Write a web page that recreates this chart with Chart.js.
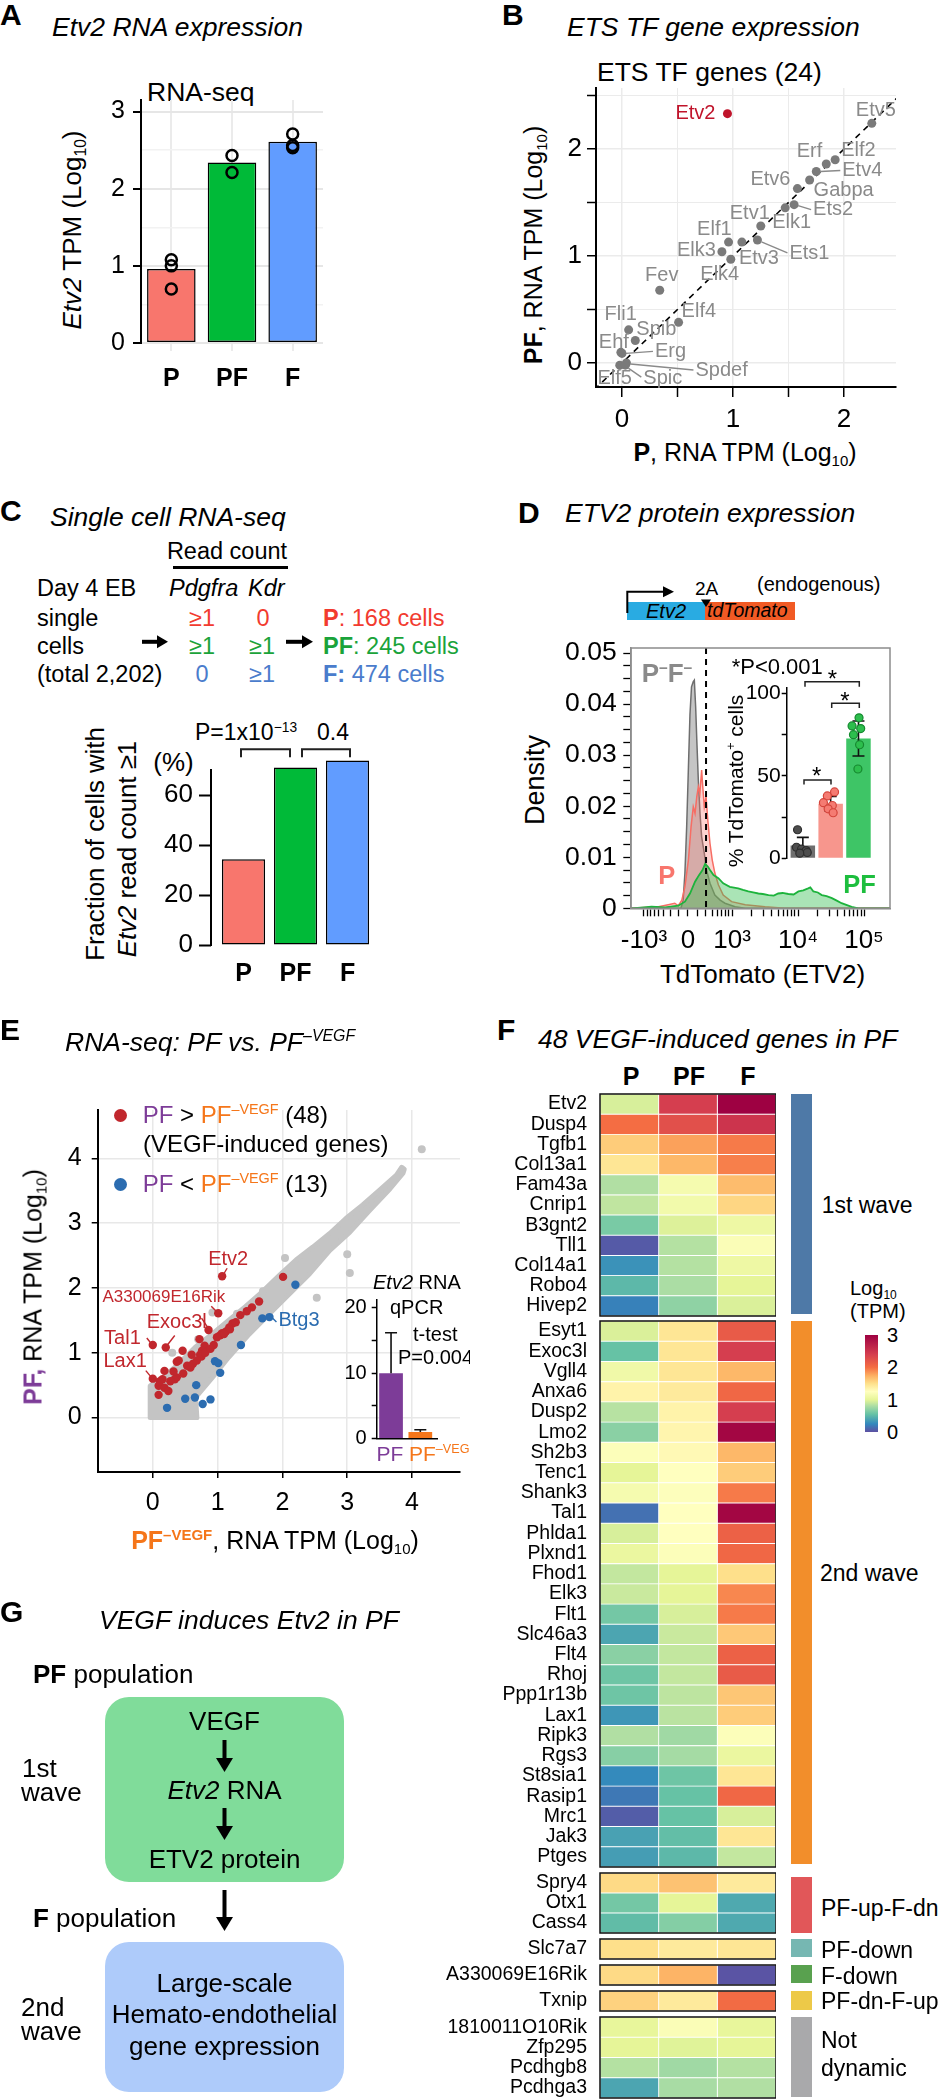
<!DOCTYPE html>
<html>
<head>
<meta charset="utf-8">
<script src="https://cdn.jsdelivr.net/npm/chart.js@4.4.1/dist/chart.umd.min.js"></script>
<style>
  body { margin: 0; background: #fff; }
  #page { position: relative; width: 940px; height: 2100px; overflow: hidden;
          font-family: "Liberation Sans", Arial, Helvetica, sans-serif; color: #000; }
  .t { position: absolute; white-space: nowrap; line-height: 1; }
  canvas { position: absolute; }
  .sup { font-size: 0.6em; position: relative; top: -0.6em; }
  .sub { font-size: 0.6em; position: relative; top: 0.35em; }
  .box { position: absolute; }
</style>
</head>
<body>
<div id="page"></div>
<script>
// ---------------- data ----------------
// A: Etv2 RNA-seq
const groups = ['P', 'PF', 'F'];
const groupColors = ['#f8766d', '#00ba38', '#619cff'];
const etv2Tpm = [0.96, 2.34, 2.61];
const etv2RepGroup = ['P', 'P', 'P', 'PF', 'PF', 'F', 'F', 'F'];
const etv2RepTpm = [1.08, 1.0, 0.70, 2.43, 2.21, 2.71, 2.56, 2.53];

// B: ETS TF genes, log10 TPM in P (x) and PF (y)
const etsGenes = ['Etv2', 'Etv5', 'Elf2', 'Erf', 'Etv4', 'Gabpa', 'Etv6', 'Ets2', 'Elk1', 'Etv1', 'Ets1', 'Etv3',
  'Elf1', 'Elk3', 'Elk4', 'Fev', 'Elf4', 'Fli1', 'Spib', 'Ehf', 'Erg', 'Spdef', 'Elf5', 'Spic'];
const etsP = [0.95, 2.25, 1.92, 1.84, 1.75, 1.69, 1.58, 1.55, 1.47, 1.25, 1.22, 1.08,
  0.96, 0.90, 0.98, 0.34, 0.51, 0.06, 0.12, -0.01, 0.0, 0.04, -0.02, 0.03];
const etsPF = [2.33, 2.24, 1.90, 1.86, 1.79, 1.71, 1.63, 1.48, 1.45, 1.28, 1.15, 1.13,
  1.13, 1.04, 0.97, 0.68, 0.38, 0.31, 0.21, 0.10, 0.09, 0.0, -0.02, -0.02];
const diagRef = [-0.25, 2.6];

// C: single cell fraction with Etv2 >= 1 (%)
const scPct = [34.3, 71.0, 73.8];

// D: TdTomato density (x in display units: 0 -> 0, 1 -> 10^3, 2.5 -> 10^4, 4 -> 10^5)
const tdTicks = [-1, 0, 1, 2.5, 4];
const tdTickLabels = ['-10³', '0', '10³', '10⁴', '10⁵'];
const tdGate = 0.41;
const densNeg = [[-1.3, 0], [-0.16, 0], [-0.11, 0.0016], [-0.07, 0.0069], [-0.03, 0.016], [0.01, 0.0277],
  [0.045, 0.038], [0.08, 0.0434], [0.12, 0.0444], [0.144, 0.0447], [0.174, 0.0395], [0.2, 0.033],
  [0.235, 0.0251], [0.273, 0.0186], [0.31, 0.014], [0.37, 0.0108], [0.42, 0.0075], [0.5, 0.0049],
  [0.61, 0.0026], [0.73, 0.0016], [0.84, 0.001], [1.07, 0.0003], [1.3, 0], [4.59, 0]];
const densP = [[-1.3, 0], [-0.9, 0.0002], [-0.67, 0.0003], [-0.45, 0.0007], [-0.3, 0.001], [-0.22, 0.0005],
  [-0.14, 0.0016], [-0.07, 0.0042], [0.01, 0.0095], [0.07, 0.016], [0.12, 0.0199], [0.16, 0.0186],
  [0.2, 0.0219], [0.235, 0.0238], [0.27, 0.0225], [0.31, 0.0271], [0.33, 0.0245], [0.37, 0.0199],
  [0.41, 0.0219], [0.45, 0.0173], [0.5, 0.0127], [0.55, 0.0095], [0.61, 0.0069], [0.69, 0.0046],
  [0.8, 0.0026], [0.99, 0.0013], [1.3, 0.0007], [1.75, 0.0003], [2.2, 0], [4.59, 0]];
const densPF = [[-1.3, 0], [-1.0, 0.0002], [-0.83, 0.0003], [-0.52, 0.0002], [-0.22, 0.0005], [-0.07, 0.0013],
  [0.045, 0.0029], [0.16, 0.0052], [0.25, 0.0065], [0.33, 0.0075], [0.39, 0.0087], [0.45, 0.0082],
  [0.5, 0.0075], [0.58, 0.0065], [0.69, 0.0059], [0.8, 0.0049], [0.95, 0.0042], [1.14, 0.0039],
  [1.25, 0.0036], [1.37, 0.0033], [1.48, 0.0031], [1.6, 0.0029], [1.7, 0.0028], [1.83, 0.0026],
  [1.95, 0.0025], [2.05, 0.0029], [2.15, 0.003], [2.28, 0.0028], [2.4, 0.0027], [2.51, 0.0033],
  [2.62, 0.0035], [2.73, 0.0039], [2.78, 0.0041], [2.85, 0.0033], [2.95, 0.0031], [3.04, 0.0026],
  [3.15, 0.0024], [3.27, 0.002], [3.38, 0.0015], [3.49, 0.001], [3.72, 0.0003], [3.87, 0], [4.59, 0]];

// D inset: % TdTomato+ cells (P-F-, P, PF)
const tdPctMean = [7.7, 33, 72.6];
const tdPctSd = [5, 4.5, 10.6];
const tdPctPts = [[17.3, 6.7, 5.5, 4.7, 3.5, 3.1], [40.2, 37.8, 33.7, 32, 30, 27.6], [85.1, 80.2, 78.6, 74.9, 68.8, 54.1]];
const tdPctJitter = [[-0.19, -0.23, -0.05, 0.12, 0.16, -0.11], [0.14, -0.12, -0.26, 0.06, -0.09, 0.09], [0.02, -0.23, 0.08, -0.18, 0.04, -0.02]];

// E: PF vs PF-VEGF (log10 TPM)
const eRedX = [1.07, 2.01, 1.64, 1.53, 1.45, 1.35, 1.01, 1.23, 1.18, 1.13, 1.07, 1.04, 0.86, 0.94, 0.80, 0.76,
  0.73, 0.60, 0.46, 0.62, 0.58, 0.47, 0.37, 0.37, 0.34, 0.20, 0.0, 0.18, 0.0, 0.15, 0.09, 0.18,
  0.24, 0.09, 0.72, 0.75, 0.68, 0.81, 0.89, 0.40, 0.32, 0.27, 1.19, 1.10, 1.28, 0.99, 0.11, 0.53];
const eRedY = [2.18, 2.17, 1.79, 1.70, 1.64, 1.58, 1.61, 1.45, 1.39, 1.33, 1.30, 1.27, 1.35, 1.12, 1.11, 1.03,
  0.97, 0.97, 1.03, 0.83, 0.77, 0.68, 0.86, 0.62, 0.59, 1.08, 1.12, 0.72, 0.60, 0.59, 0.49, 0.46,
  0.41, 0.35, 1.21, 0.94, 0.88, 1.00, 1.06, 0.88, 0.71, 0.56, 1.36, 1.29, 1.47, 1.24, 0.56, 0.80];
const eBlueX = [2.20, 1.69, 1.80, 1.36, 0.96, 1.01, 1.04, 0.67, 0.50, 0.65, 0.89, 0.77, 0.22];
const eBlueY = [2.05, 1.53, 1.55, 1.12, 0.87, 0.84, 0.69, 0.50, 0.29, 0.31, 0.28, 0.21, 0.15];
const eGreyX = [4.15, 2.04, 3.0, 3.04, 2.53, 0.92, 0.70, 1.70, 0.30, 0.50, 1.30];
const eGreyY = [4.14, 2.46, 2.52, 2.23, 1.85, 1.62, 1.21, 1.95, 1.00, 0.75, 1.60];
const eCloudX = [-0.04, -0.04, 0.14, 0.40, 0.66, 0.92, 1.17, 1.43, 1.69, 1.95, 2.21, 2.47, 2.73, 2.98, 3.24, 3.50,
  3.76, 3.84, 3.88, 3.86, 3.66, 3.35, 3.04, 2.73, 2.42, 2.11, 1.80, 1.49, 1.17, 0.92, 0.66, 0.68];
const eCloudY = [0.0, 0.49, 0.60, 0.83, 1.09, 1.29, 1.50, 1.71, 1.94, 2.19, 2.43, 2.63, 2.84, 3.07, 3.28, 3.51,
  3.74, 3.86, 3.83, 3.77, 3.53, 3.20, 2.86, 2.58, 2.22, 1.91, 1.60, 1.29, 0.93, 0.62, 0.31, 0.0];
const qpcrMean = [10.0, 1.0];
const qpcrSd = [6.2, 0.35];

// F: heatmap, log10 TPM
const heatGenes = ['Etv2', 'Dusp4', 'Tgfb1', 'Col13a1', 'Fam43a', 'Cnrip1', 'B3gnt2', 'Tll1', 'Col14a1', 'Robo4', 'Hivep2',
  'Esyt1', 'Exoc3l', 'Vgll4', 'Anxa6', 'Dusp2', 'Lmo2', 'Sh2b3', 'Tenc1', 'Shank3', 'Tal1', 'Phlda1', 'Plxnd1', 'Fhod1',
  'Elk3', 'Flt1', 'Slc46a3', 'Flt4', 'Rhoj', 'Ppp1r13b', 'Lax1', 'Ripk3', 'Rgs3', 'St8sia1', 'Rasip1', 'Mrc1', 'Jak3', 'Ptges',
  'Spry4', 'Otx1', 'Cass4', 'Slc7a7', 'A330069E16Rik', 'Txnip', '1810011O10Rik', 'Zfp295', 'Pcdhgb8', 'Pcdhga3'];
const heatP = [0.95, 2.0, 1.6, 1.45, 0.82, 0.87, 0.62, 0.05, 0.3, 0.5, 0.22,
  0.96, 0.55, 1.1, 1.35, 0.84, 0.68, 1.22, 1.0, 1.15, 0.15, 0.95, 1.05, 0.88, 0.9, 0.6, 0.4, 0.68, 0.58, 0.58,
  0.32, 0.82, 0.67, 0.26, 0.18, 0.06, 0.38, 0.36,
  1.53, 0.6, 0.52, 1.5, 1.53, 1.57, 1.02, 1.0, 0.83, 0.4];
const heatPF = [2.4, 2.25, 1.8, 1.7, 1.15, 1.12, 0.97, 0.83, 0.83, 0.8, 0.7,
  1.45, 1.45, 1.45, 1.42, 1.35, 1.33, 1.3, 1.25, 1.23, 1.25, 1.25, 1.22, 1.0, 1.0, 0.95, 0.9, 0.88, 0.88, 0.86,
  0.85, 0.76, 0.78, 0.58, 0.55, 0.55, 0.53, 0.5,
  1.65, 1.0, 0.66, 1.42, 1.72, 1.42, 1.2, 0.98, 0.76, 0.79];
const heatF = [3.0, 2.5, 1.95, 1.93, 1.68, 1.55, 1.08, 1.2, 1.08, 1.0, 0.96,
  2.15, 2.4, 1.7, 2.05, 2.4, 2.95, 1.7, 1.6, 1.95, 2.95, 2.1, 2.05, 1.5, 1.9, 1.95, 1.62, 2.1, 2.15, 1.63,
  1.6, 1.22, 1.05, 1.45, 2.05, 0.95, 1.45, 0.88,
  1.42, 0.42, 0.42, 1.45, 0.02, 2.02, 1.02, 1.0, 0.83, 0.82];
const heatBlockSizes = [11, 27, 3, 1, 1, 1, 4];
const heatStops = [[0, '#5e4fa2'], [0.25, '#3288bd'], [0.55, '#66c2a5'], [0.8, '#abdda4'], [1.0, '#e6f598'],
  [1.25, '#ffffbf'], [1.5, '#fee08b'], [1.75, '#fdae61'], [2.0, '#f46d43'], [2.4, '#d53e4f'], [3.0, '#9e0142']];

// ---------------- helpers ----------------
const page = document.getElementById('page');
const FONT = '"Liberation Sans", Arial, Helvetica, sans-serif';
Chart.defaults.font.family = FONT;
Chart.defaults.color = '#000';
Chart.defaults.animation = false;
Chart.defaults.responsive = false;
Chart.defaults.plugins.legend.display = false;
Chart.defaults.plugins.tooltip.enabled = false;

const isInt = v => Math.abs(v - Math.round(v)) < 1e-9;
const pad = (top, right, bottom) => ({ padding: { top: top, right: right, bottom: bottom || 0, left: 0 }, autoPadding: false });

function canvasAt(left, top, w, h, parent) {
  const c = document.createElement('canvas');
  c.width = w; c.height = h;
  c.style.left = left + 'px'; c.style.top = top + 'px';
  c.style.width = w + 'px'; c.style.height = h + 'px';
  (parent || page).appendChild(c);
  return c.getContext('2d');
}
function zeroPad(s) { s.paddingTop = 0; s.paddingBottom = 0; s.paddingLeft = 0; s.paddingRight = 0; }
function fitW(w) { return s => { s.width = w; zeroPad(s); }; }
function fitH(h) { return s => { s.height = h; zeroPad(s); }; }
// category-like positions 1..n on a linear axis (so the bars can sit anywhere in the plot)
const slots = n => s => { s.ticks = Array.from({ length: n }, (_, i) => ({ value: i + 1 })); };

function T(x, y, size, html, align, css, parent) {
  const d = document.createElement('div');
  d.className = 't';
  d.style.left = x + 'px'; d.style.top = y + 'px'; d.style.fontSize = size + 'px';
  const tx = align === 'c' ? '-50%' : align === 'r' ? '-100%' : '0';
  d.style.transform = 'translate(' + tx + ',-50%)';
  if (css) d.style.cssText += css;
  d.innerHTML = html;
  (parent || page).appendChild(d);
  return d;
}
function R(x, y, size, html, css) {
  const d = T(x, y, size, html, 'c', css);
  d.style.transform = 'translate(-50%,-50%) rotate(-90deg)';
  return d;
}
function rect(x, y, w, h, bg, css) {
  const d = document.createElement('div');
  d.className = 'box';
  d.style.cssText = 'left:' + x + 'px;top:' + y + 'px;width:' + w + 'px;height:' + h + 'px;background:' + bg + ';' + (css || '');
  page.appendChild(d);
  return d;
}
function hexRgb(h) { return [1, 3, 5].map(i => parseInt(h.substr(i, 2), 16)); }
function heatColor(v) {
  for (let i = 1; i < heatStops.length; i++) {
    if (v <= heatStops[i][0]) {
      const [v0, c0] = heatStops[i - 1], [v1, c1] = heatStops[i];
      const f = Math.max(0, (v - v0) / (v1 - v0));
      const a = hexRgb(c0), b = hexRgb(c1);
      return 'rgb(' + a.map((x, k) => Math.round(x + (b[k] - x) * f)).join(',') + ')';
    }
  }
  return heatStops[heatStops.length - 1][1];
}
const frame = (color, w) => ({
  id: 'frame',
  afterDraw(chart) {
    const a = chart.chartArea, c = chart.ctx;
    c.save(); c.strokeStyle = color; c.lineWidth = w;
    c.strokeRect(a.left, a.top, a.right - a.left, a.bottom - a.top);
    c.restore();
  }
});
function labelPlugin(items) {
  return {
    id: 'ptlabels',
    afterDatasetsDraw(chart) {
      const ctx = chart.ctx;
      ctx.save();
      ctx.textBaseline = 'middle';
      items.forEach(it => {
        const el = chart.getDatasetMeta(it.ds).data[it.i];
        if (!el) return;
        ctx.strokeStyle = it.color; ctx.fillStyle = it.color; ctx.lineWidth = 1.4;
        if (it.lead) {
          ctx.beginPath();
          ctx.moveTo(el.x + it.lead[0], el.y + it.lead[1]);
          ctx.lineTo(el.x + it.lead[2], el.y + it.lead[3]);
          ctx.stroke();
        }
        if (it.t) {
          ctx.font = it.font;
          ctx.textAlign = { l: 'left', r: 'right', c: 'center' }[it.a];
          ctx.fillText(it.t, el.x + it.dx, el.y + it.dy);
        }
      });
      ctx.restore();
    }
  };
}
function errorBars(means, sds, upOnly, cap) {
  return {
    id: 'errbars',
    afterDatasetDraw(chart, args) {
      if (args.index !== 0) return;
      const ctx = chart.ctx, xs = chart.scales.x, ys = chart.scales.y;
      ctx.save(); ctx.strokeStyle = '#111'; ctx.lineWidth = 1.6;
      means.forEach((m, i) => {
        const x = xs.getPixelForValue(i + 1);
        const yTop = ys.getPixelForValue(m + sds[i]);
        const yBot = ys.getPixelForValue(upOnly ? m : m - sds[i]);
        ctx.beginPath();
        ctx.moveTo(x, yBot); ctx.lineTo(x, yTop);
        ctx.moveTo(x - cap, yTop); ctx.lineTo(x + cap, yTop);
        if (!upOnly) { ctx.moveTo(x - cap, yBot); ctx.lineTo(x + cap, yBot); }
        ctx.stroke();
      });
      ctx.restore();
    }
  };
}

// ---------------- panel A ----------------
T(0, 15, 30, '<b>A</b>');
T(52, 27, 26.5, '<i>Etv2 RNA expression</i>');
T(147, 92, 26.5, 'RNA-seq');
R(72, 230, 26, '<i>Etv2</i> TPM (Log<span class="sub">10</span>)');
new Chart(canvasAt(95, 88, 233, 307), {
  type: 'bar',
  data: {
    labels: groups,
    datasets: [
      { type: 'line', data: etv2RepTpm.map((y, i) => ({ x: etv2RepGroup[i], y: y })), showLine: false,
        pointRadius: 5.5, pointBorderWidth: 2.5, pointBorderColor: '#000', pointBackgroundColor: 'rgba(0,0,0,0)', order: 0 },
      { data: etv2Tpm, backgroundColor: groupColors, borderColor: '#000', borderWidth: 1.5, borderSkipped: false,
        barPercentage: 0.8, categoryPercentage: 1, order: 1 }
    ]
  },
  options: {
    layout: pad(12, 5),
    scales: {
      x: { afterFit: fitH(52), border: { display: false },
           grid: { offset: false, color: '#ebebeb', lineWidth: 2, tickColor: '#ebebeb', tickLength: 8 },
           ticks: { font: { size: 25, weight: 'bold' }, padding: 13 } },
      y: { min: 0, max: 3.15, afterFit: fitW(46), border: { color: '#000', width: 2 },
           ticks: { stepSize: 0.5, includeBounds: false, font: { size: 25 }, padding: 8, callback: v => isInt(v) ? v : '' },
           grid: { color: c => c.tick && isInt(c.tick.value) ? '#e6e6e6' : '#f2f2f2',
                   lineWidth: c => c.tick && isInt(c.tick.value) ? 2 : 1.5,
                   tickColor: c => c.tick && isInt(c.tick.value) ? '#000' : 'rgba(0,0,0,0)', tickLength: 8 } }
    }
  }
});

// ---------------- panel B ----------------
T(502, 15, 30, '<b>B</b>');
T(567, 27, 26.5, '<i>ETS TF gene expression</i>');
T(597, 72, 26.5, 'ETS TF genes (24)');
R(533, 245, 25, '<b>PF</b>, RNA TPM (Log<span class="sub">10</span>)');
T(745, 452, 25, '<b>P</b>, RNA TPM (Log<span class="sub">10</span>)', 'c');
// label offsets from the point: [dx, dy, align, leader]
const etsLabelAt = [
  [-12, 0, 'r'], [4, -13, 'c'], [6, -9, 'l'], [-4, -12, 'r'], [26, -1, 'l', [4, 0, 24, -1]],
  [4, 10, 'l'], [-7, -9, 'r'], [19, 5, 'l', [4, 1, 17, 5]], [-13, 15, 'l'], [9, -13, 'r'],
  [32, 14, 'l', [4, 2, 30, 13]], [-3, 16, 'l'], [3, -13, 'r'], [-6, -1, 'r'], [-11, 15, 'c'],
  [2, -15, 'c'], [3, -11, 'l'], [-8, -15, 'c'], [1, -11, 'l'], [-7, -10, 'c'],
  [33, -2, 'l', [4, 0, 31, -2]], [69, 7, 'l', [4, 1, 67, 7]], [-5, 13, 'c'], [18, 13, 'l', [3, 3, 16, 12]]
];
const bLabels = etsGenes.map((g, i) => ({
  ds: 0, i: i, t: g, dx: etsLabelAt[i][0], dy: etsLabelAt[i][1], a: etsLabelAt[i][2], lead: etsLabelAt[i][3],
  color: g === 'Etv2' ? '#c0142b' : '#8a8a8a', font: '20px ' + FONT
}));
new Chart(canvasAt(550, 70, 356, 370), {
  type: 'line',
  data: {
    datasets: [
      { data: etsP.map((x, i) => ({ x: x, y: etsPF[i] })), showLine: false, pointRadius: 4.5, pointBorderWidth: 0,
        pointBackgroundColor: etsGenes.map(g => g === 'Etv2' ? '#c0142b' : '#7a7a7a'), order: 0 },
      { data: diagRef.map(v => ({ x: v, y: v })), borderColor: '#000', borderWidth: 1.6, borderDash: [6, 5],
        pointRadius: 0, order: 1 }
    ]
  },
  options: {
    layout: pad(18, 10),
    scales: {
      x: { type: 'linear', min: -0.234, max: 2.468, afterFit: fitH(53), border: { color: '#000', width: 2 },
           ticks: { stepSize: 0.5, includeBounds: false, font: { size: 26 }, padding: 7, maxRotation: 0, callback: v => isInt(v) ? v : '' },
           grid: { color: '#ebebeb', lineWidth: c => c.tick && isInt(c.tick.value) ? 1.5 : 1, tickColor: '#000', tickWidth: 1.5, tickLength: 10 } },
      y: { min: -0.224, max: 2.57, afterFit: fitW(46), border: { color: '#000', width: 2 },
           ticks: { stepSize: 0.5, includeBounds: false, font: { size: 26 }, padding: 5, callback: v => isInt(v) ? v : '' },
           grid: { color: '#ebebeb', lineWidth: c => c.tick && isInt(c.tick.value) ? 1.5 : 1, tickColor: '#000', tickWidth: 1.5, tickLength: 9 } }
    }
  },
  plugins: [labelPlugin(bLabels)]
});

// ---------------- panel C ----------------
T(0, 511, 30, '<b>C</b>');
T(50, 517, 26.5, '<i>Single cell RNA-seq</i>');
T(227, 552, 23.5, 'Read count', 'c');
T(169, 589, 23.5, '<i>Pdgfra</i>');
T(248, 589, 23.5, '<i>Kdr</i>');
T(37, 589, 23.5, 'Day 4 EB');
T(37, 619, 23.5, 'single');
T(37, 647, 23.5, 'cells');
T(37, 675, 23.5, '(total 2,202)');
const cRed = '#f23b2f', cGreen = '#1aa33a', cBlue = '#4a7ccc';
T(202, 619, 23.5, '≥1', 'c', 'color:' + cRed);
T(263, 619, 23.5, '0', 'c', 'color:' + cRed);
T(202, 647, 23.5, '≥1', 'c', 'color:' + cGreen);
T(262, 647, 23.5, '≥1', 'c', 'color:' + cGreen);
T(202, 675, 23.5, '0', 'c', 'color:' + cBlue);
T(262, 675, 23.5, '≥1', 'c', 'color:' + cBlue);
T(323, 619, 23.5, '<b>P</b>: 168 cells', 'l', 'color:' + cRed);
T(323, 647, 23.5, '<b>PF</b>: 245 cells', 'l', 'color:' + cGreen);
T(323, 675, 23.5, '<b>F:</b> 474 cells', 'l', 'color:' + cBlue);
T(195, 732, 23, 'P=1x10<span class="sup">−13</span>');
T(317, 732, 23, '0.4');
T(173.5, 762, 26, '(%)', 'c');
R(96, 844, 25.8, 'Fraction of cells with');
R(127.5, 849, 25.8, '<i>Etv2</i> read count ≥1');
new Chart(canvasAt(150, 740, 230, 250), {
  type: 'bar',
  data: {
    datasets: [{ data: scPct.map((y, i) => ({ x: i + 1, y: y })), backgroundColor: groupColors, borderColor: '#000',
      borderWidth: 1.5, borderSkipped: false, barPercentage: 0.83, categoryPercentage: 1 }]
  },
  options: {
    layout: pad(15, 7),
    scales: {
      x: { type: 'linear', offset: false, min: 0.375, max: 3.49, afterFit: fitH(45), border: { display: false },
           afterBuildTicks: slots(3),
           grid: { display: false, drawTicks: false },
           ticks: { font: { size: 25, weight: 'bold' }, padding: 14, callback: v => groups[v - 1] } },
      y: { min: 0, max: 76, afterFit: fitW(61), border: { display: false },
           afterBuildTicks: s => { s.ticks = [0, 10, 20, 30, 40, 50, 60, 70].map(v => ({ value: v })); },
           ticks: { font: { size: 26 }, padding: 6, callback: v => v % 20 === 0 ? v : '' },
           grid: { drawOnChartArea: false, tickColor: '#000', tickWidth: 2, tickLength: 12 } }
    }
  },
  plugins: [{
    id: 'axisC',
    afterDraw(chart) {
      const ys = chart.scales.y, x = chart.chartArea.left, ctx = chart.ctx;
      ctx.save(); ctx.strokeStyle = '#000'; ctx.lineWidth = 2;
      ctx.beginPath(); ctx.moveTo(x, ys.getPixelForValue(0) + 1); ctx.lineTo(x, ys.getPixelForValue(70) - 1); ctx.stroke();
      ctx.restore();
    }
  }]
});

// ---------------- panel D ----------------
T(518, 513, 30, '<b>D</b>');
T(565, 513, 26.5, '<i>ETV2 protein expression</i>');
rect(627.3, 602.3, 77.7, 17.5, '#29abe2');
rect(705, 602.3, 90, 17.5, '#f15a24');
T(666, 611, 20, '<i>Etv2</i>', 'c');
T(707, 611, 19.5, '<i>tdTomato</i>');
T(695, 588, 19, '2A');
T(757, 584, 20, '(endogenous)');
R(535, 780, 27, 'Density');
T(762.5, 974, 26, 'TdTomato (ETV2)', 'c');
const tdMinor = [];
[2, 3, 4, 5, 6, 7, 8, 9].forEach(m => {
  const l = Math.log10(m) * 1.5;
  tdMinor.push(1 + l, 2.5 + l);
  if (m > 2) tdMinor.push(l - 0.5, 0.5 - l);
});
const tdAllTicks = tdTicks.concat(tdMinor).filter(v => v < 4.55).sort((a, b) => a - b);
new Chart(canvasAt(555, 630, 345, 325), {
  type: 'line',
  data: {
    datasets: [
      { data: densNeg.map(p => ({ x: p[0], y: p[1] })), borderColor: '#6e6e6e', backgroundColor: 'rgba(150,150,150,0.55)',
        fill: 'origin', borderWidth: 1.5, pointRadius: 0, order: 3 },
      { data: densP.map(p => ({ x: p[0], y: p[1] })), borderColor: '#f76d64', backgroundColor: 'rgba(248,118,109,0.33)',
        fill: 'origin', borderWidth: 1.5, pointRadius: 0, order: 2 },
      { data: densPF.map(p => ({ x: p[0], y: p[1] })), borderColor: '#1db33c', backgroundColor: 'rgba(52,190,80,0.42)',
        fill: 'origin', borderWidth: 1.8, pointRadius: 0, order: 1 }
    ]
  },
  options: {
    layout: pad(18, 10),
    scales: {
      x: { type: 'linear', min: -1.295, max: 4.59, afterFit: fitH(46.7), border: { color: '#8c8c8c', width: 1.5 },
           afterBuildTicks: s => { s.ticks = tdAllTicks.map(v => ({ value: v })); },
           ticks: { font: { size: 26 }, padding: 9, maxRotation: 0, autoSkip: false,
                    callback: v => { const k = tdTicks.indexOf(v); return k >= 0 ? tdTickLabels[k] : ''; } },
           grid: { drawOnChartArea: false, tickColor: '#000', tickWidth: 1.3, tickLength: 8 } },
      y: { min: 0, max: 0.051, afterFit: fitW(76), border: { color: '#8c8c8c', width: 1.5 },
           afterBuildTicks: s => { s.ticks = Array.from({ length: 21 }, (_, k) => ({ value: k * 0.0025 })); },
           ticks: { font: { size: 26.5 }, padding: 6.6, autoSkip: false,
                    callback: (v, i) => i % 4 === 0 ? String(+v.toFixed(2)) : '' },
           grid: { drawOnChartArea: false, tickColor: '#000', tickWidth: 1.3, tickLength: 7.7 } }
    }
  },
  plugins: [frame('#8c8c8c', 1.5), {
    id: 'gate',
    afterDatasetsDraw(chart) {
      const x = chart.scales.x.getPixelForValue(tdGate), a = chart.chartArea, ctx = chart.ctx;
      ctx.save(); ctx.strokeStyle = '#000'; ctx.lineWidth = 2; ctx.setLineDash([6, 5]);
      ctx.beginPath(); ctx.moveTo(x, a.top); ctx.lineTo(x, a.bottom); ctx.stroke();
      ctx.restore();
    }
  }]
});
T(641.7, 673, 26, '<b>P<span class="sup">–</span>F<span class="sup">–</span></b>', 'l', 'color:#8a8a8a');
T(658.3, 876, 25.5, '<b>P</b>', 'l', 'color:#f8766d');
T(843.3, 885, 25.5, '<b>PF</b>', 'l', 'color:#1dbe3e');
T(731.7, 667, 22, '*P&lt;0.001');
R(735, 781, 21, '% TdTomato<span class="sup">+</span> cells');
T(816.7, 776, 24, '*', 'c');
T(845, 701, 24, '*', 'c');
T(832.3, 679, 24, '*', 'c');
const insetBar = ['#6e6e6e', '#f7968d', '#3ec566'];
const insetPt = ['#4d4d4d', '#f57b72', '#2dbe4d'];
const insetPtEdge = ['#2e2e2e', '#d4453c', '#168a30'];
new Chart(canvasAt(740, 670, 145, 195), {
  type: 'bar',
  data: {
    datasets: [{ data: tdPctMean.map((y, i) => ({ x: i + 1, y: y })), backgroundColor: insetBar, barPercentage: 0.88,
      categoryPercentage: 1, order: 2 }].concat(tdPctPts.map((pts, g) => ({
      type: 'line', showLine: false, data: pts.map((y, k) => ({ x: g + 1 + tdPctJitter[g][k], y: y })),
      pointRadius: 4, pointBackgroundColor: insetPt[g], pointBorderColor: insetPtEdge[g], pointBorderWidth: 1.2, order: 0
    })))
  },
  options: {
    layout: pad(18, 9, 6.7),
    scales: {
      x: { type: 'linear', offset: false, display: false, min: 0.42, max: 3.63, afterBuildTicks: slots(3) },
      y: { min: 0, max: 103.2, afterFit: fitW(46.7), border: { color: '#000', width: 1.5 },
           afterBuildTicks: s => { s.ticks = [0, 25, 50, 75, 100].map(v => ({ value: v })); },
           ticks: { font: { size: 21 }, padding: 1, callback: v => v % 50 === 0 ? v : '' },
           grid: { drawOnChartArea: false, tickColor: '#000', tickWidth: 1.5, tickLength: 5 } }
    }
  },
  plugins: [errorBars(tdPctMean, tdPctSd, false, 6)]
});

// ---------------- panel E ----------------
const eClip = document.createElement('div');
eClip.style.cssText = 'position:absolute;left:0;top:0;width:470px;height:2100px;overflow:hidden;';
page.appendChild(eClip);
const ePurple = '#7d3c98', eOrange = '#f5761a', eRed = '#c1272d', eBlue = '#2b6cb0';
T(0, 1030, 30, '<b>E</b>');
T(65, 1042, 26.5, '<i>RNA-seq: PF vs. PF<span class="sup">–VEGF</span></i>');
R(33, 1287, 25, '<b style="color:' + ePurple + '">PF,</b> RNA TPM (Log<span class="sub">10</span>)');
T(275, 1540, 25, '<b style="color:' + eOrange + '">PF<span class="sup">–VEGF</span></b>, RNA TPM (Log<span class="sub">10</span>)', 'c');
const eLabels = [
  { ds: 1, i: 0, t: 'Etv2', dx: 6, dy: -17, a: 'c', lead: [2, -3, 5, -8], color: eRed, font: '20px ' + FONT },
  { ds: 1, i: 6, t: 'A330069E16Rik', dx: 7, dy: -16, a: 'r', lead: [-2, -2, -7, -7], color: eRed, font: '17px ' + FONT },
  { ds: 1, i: 25, t: 'Exoc3l', dx: -19, dy: -25, a: 'l', lead: [2, -3, 9, -12], color: eRed, font: '20px ' + FONT },
  { ds: 1, i: 12, t: '', lead: [-1, -3, -7, -12], color: eRed },
  { ds: 1, i: 26, t: 'Tal1', dx: -12, dy: -6, a: 'r', lead: [-2, -2, -6, -7], color: eRed, font: '20px ' + FONT },
  { ds: 1, i: 28, t: 'Lax1', dx: -6, dy: -17, a: 'r', lead: [-2, -2, -7, -8], color: eRed, font: '20px ' + FONT },
  { ds: 2, i: 2, t: 'Btg3', dx: 9, dy: 3, a: 'l', lead: [2, 0, 7, 5], color: eBlue, font: '20px ' + FONT }
];
new Chart(canvasAt(40, 1095, 430, 430, eClip), {
  type: 'line',
  data: {
    datasets: [
      { data: eGreyX.map((x, i) => ({ x: x, y: eGreyY[i] })), showLine: false, pointRadius: 4, pointBorderWidth: 0,
        pointBackgroundColor: '#c4c4c4', order: 3 },
      { data: eRedX.map((x, i) => ({ x: x, y: eRedY[i] })), showLine: false, pointRadius: 4.2, pointBorderWidth: 0,
        pointBackgroundColor: eRed, order: 1 },
      { data: eBlueX.map((x, i) => ({ x: x, y: eBlueY[i] })), showLine: false, pointRadius: 4.2, pointBorderWidth: 0,
        pointBackgroundColor: eBlue, order: 0 }
    ]
  },
  options: {
    layout: pad(15, 10),
    scales: {
      x: { type: 'linear', min: -0.85, max: 4.74, afterFit: fitH(53), border: { color: '#000', width: 2 },
           ticks: { stepSize: 1, includeBounds: false, font: { size: 25 }, padding: 10, maxRotation: 0 },
           grid: { color: '#e8e8e8', lineWidth: 1.5, tickColor: '#000', tickWidth: 1.5, tickLength: 6 } },
      y: { min: -0.84, max: 4.745, afterFit: fitW(57.7), border: { color: '#000', width: 2 },
           ticks: { stepSize: 1, includeBounds: false, font: { size: 25 }, padding: 10 },
           grid: { color: '#e8e8e8', lineWidth: 1.5, tickColor: '#000', tickWidth: 1.5, tickLength: 6 } }
    }
  },
  plugins: [{
    id: 'cloud',
    beforeDatasetsDraw(chart) {
      const xs = chart.scales.x, ys = chart.scales.y, ctx = chart.ctx, a = chart.chartArea;
      ctx.save();
      ctx.beginPath(); ctx.rect(a.left, a.top, a.right - a.left, a.bottom - a.top); ctx.clip();
      ctx.fillStyle = '#c4c4c4'; ctx.strokeStyle = '#c4c4c4'; ctx.lineWidth = 5; ctx.lineJoin = 'round';
      ctx.beginPath();
      eCloudX.forEach((x, i) => {
        const px = xs.getPixelForValue(x), py = ys.getPixelForValue(eCloudY[i]);
        if (i === 0) ctx.moveTo(px, py); else ctx.lineTo(px, py);
      });
      ctx.closePath(); ctx.fill(); ctx.stroke();
      ctx.restore();
    }
  }, labelPlugin(eLabels)]
});
rect(114.2, 1108.7, 13, 13, eRed, 'border-radius:50%;');
rect(114.2, 1177.5, 13, 13, eBlue, 'border-radius:50%;');
const pfP = '<span style="color:' + ePurple + '">PF</span>';
const pfV = '<span style="color:' + eOrange + '">PF<span class="sup">–VEGF</span></span>';
T(142.7, 1115, 24, pfP + ' &gt; ' + pfV + ' (48)');
T(143, 1144, 24, '(VEGF-induced genes)');
T(142.7, 1184, 24, pfP + ' &lt; ' + pfV + ' (13)');
new Chart(canvasAt(330, 1285, 140, 160, eClip), {
  type: 'bar',
  data: {
    datasets: [{ data: qpcrMean.map((y, i) => ({ x: i + 1, y: y })), backgroundColor: [ePurple, eOrange],
      barPercentage: 0.81, categoryPercentage: 1 }]
  },
  options: {
    layout: pad(15, 33),
    scales: {
      x: { type: 'linear', offset: false, min: 0.51, max: 2.57, afterFit: fitH(6.4), border: { color: '#000', width: 1.5 },
           afterBuildTicks: slots(2), ticks: { display: false }, grid: { display: false, drawTicks: false } },
      y: { min: 0, max: 21.2, afterFit: fitW(46.7), border: { color: '#000', width: 1.5 },
           afterBuildTicks: s => { s.ticks = [0, 5, 10, 15, 20].map(v => ({ value: v })); },
           ticks: { font: { size: 20 }, padding: 5, callback: v => v % 10 === 0 ? v : '' },
           grid: { drawOnChartArea: false, tickColor: '#000', tickWidth: 1.5, tickLength: 5 } }
    }
  },
  plugins: [errorBars(qpcrMean, qpcrSd, true, 6)]
});
T(373, 1282, 20, '<i>Etv2</i> RNA', 'l', '', eClip);
T(390, 1307, 20, 'qPCR', 'l', '', eClip);
T(413, 1334, 20, 't-test', 'l', '', eClip);
T(398, 1357, 20, 'P=0.004', 'l', '', eClip);
T(390, 1453, 21, 'PF', 'c', 'color:' + ePurple, eClip);
T(409, 1453, 21, 'PF<span class="sup">–VEGF</span>', 'l', 'color:' + eOrange, eClip);

// ---------------- panel F ----------------
T(497, 1030, 30, '<b>F</b>');
T(538, 1039, 26.5, '<i>48 VEGF-induced genes in PF</i>');
T(631, 1076, 25, '<b>P</b>', 'c');
T(689, 1076, 25, '<b>PF</b>', 'c');
T(748, 1076, 25, '<b>F</b>', 'c');
const heatBlockBox = [[1094, 1316], [1321, 1866.6], [1873, 1933.2], [1939.3, 1959.5], [1965, 1985.2], [1991, 2011.2], [2016.6, 2097.4]];
let hs = 0;
heatBlockSizes.forEach((n, b) => {
  const genes = heatGenes.slice(hs, hs + n);
  const cols = [heatP, heatPF, heatF].map(arr => arr.slice(hs, hs + n));
  hs += n;
  const top = Math.round(heatBlockBox[b][0]), h = Math.round(heatBlockBox[b][1] - heatBlockBox[b][0]);
  new Chart(canvasAt(425, top - 14, 351, h + 28), {
    type: 'bar',
    data: {
      labels: genes,
      datasets: cols.map(vals => ({ data: vals.map(() => 1), backgroundColor: vals.map(heatColor), borderColor: '#fff',
        borderWidth: 0.8, borderSkipped: false, barPercentage: 1, categoryPercentage: 1 }))
    },
    options: {
      indexAxis: 'y',
      layout: pad(14, 0, 14),
      scales: {
        x: { display: false, stacked: true, min: 0, max: 3 },
        y: { stacked: true, afterFit: fitW(175), grid: { display: false, drawTicks: false }, border: { display: false },
             ticks: { font: { size: 19.5 }, padding: 13, autoSkip: false } }
      }
    },
    plugins: [frame('#111', 1.5)]
  });
});
const waveBars = [[1094, 1314, '#4e79a7'], [1321, 1864.3, '#f28e2b'], [1877, 1933.2, '#e15759'], [1939.3, 1957.3, '#76b7b2'],
  [1965, 1983, '#59a14f'], [1991, 2010.1, '#edc948'], [2016.6, 2097, '#a9a9ab']];
waveBars.forEach(w => rect(790.7, w[0], 21, w[1] - w[0], w[2]));
T(821.7, 1205, 23, '1st wave');
T(820, 1573, 23, '2nd wave');
T(821, 1908, 23, 'PF-up-F-dn');
T(821, 1950, 23, 'PF-down');
T(821, 1976, 23, 'F-down');
T(821, 2001, 23, 'PF-dn-F-up');
T(821, 2040, 23, 'Not');
T(821, 2068, 23, 'dynamic');
T(850, 1288, 20, 'Log<span class="sub">10</span>');
T(850, 1311, 20, '(TPM)');
rect(865, 1335.2, 13.3, 96.8, 'linear-gradient(to top,' + heatStops.map(s => s[1] + ' ' + (s[0] / 3 * 100).toFixed(1) + '%').join(',') + ')');
[3, 2, 1, 0].forEach(v => T(887, 1432 - v * 32.27, 20, String(v)));

// ---------------- panel G ----------------
T(0, 1612, 30, '<b>G</b>');
T(99, 1620, 26.5, '<i>VEGF induces Etv2 in PF</i>');
rect(105, 1697, 239, 185, '#80dc9a', 'border-radius:24px;');
rect(105, 1942, 239, 150, '#aecbfa', 'border-radius:24px;');
T(33, 1674, 26, '<b>PF</b> population');
T(22, 1768, 26, '1st');
T(21, 1792, 26, 'wave');
T(224.5, 1721, 26, 'VEGF', 'c');
T(224.5, 1790, 26, '<i>Etv2</i> RNA', 'c');
T(224.5, 1858.5, 26, 'ETV2 protein', 'c');
T(33, 1918, 26, '<b>F</b> population');
T(224.5, 1982.5, 26, 'Large-scale', 'c');
T(224.5, 2014, 26, 'Hemato-endothelial', 'c');
T(224.5, 2045.5, 26, 'gene expression', 'c');
T(21, 2006.5, 26, '2nd');
T(21, 2030.5, 26, 'wave');

// ---------------- line work (arrows, brackets) ----------------
function arrowSvg(x1, y1, x2, y2, w, hl, hw) {
  const dx = x2 - x1, dy = y2 - y1, L = Math.hypot(dx, dy), ux = dx / L, uy = dy / L;
  const bx = x2 - ux * hl, by = y2 - uy * hl;
  return '<line x1="' + x1 + '" y1="' + y1 + '" x2="' + (bx + ux) + '" y2="' + (by + uy) + '" stroke="#000" stroke-width="' + w + '"/>' +
    '<polygon points="' + x2 + ',' + y2 + ' ' + (bx - uy * hw) + ',' + (by + ux * hw) + ' ' + (bx + uy * hw) + ',' + (by - ux * hw) + '" fill="#000"/>';
}
function bracket(x1, x2, yTop, yBot, w) {
  return '<polyline points="' + x1 + ',' + yBot + ' ' + x1 + ',' + yTop + ' ' + x2 + ',' + yTop + ' ' + x2 + ',' + yBot +
    '" fill="none" stroke="#222" stroke-width="' + w + '"/>';
}
let svg = '<line x1="173" y1="567.5" x2="288" y2="567.5" stroke="#000" stroke-width="3"/>';
svg += arrowSvg(142, 641.8, 168, 641.8, 4, 11, 6.5);
svg += arrowSvg(286, 641.8, 313, 641.8, 4, 11, 6.5);
svg += bracket(241, 290, 749.3, 757.3, 2);
svg += bracket(302, 350, 749.3, 757.3, 2);
svg += '<polyline points="627.3,613 627.3,591.8 663,591.8" fill="none" stroke="#000" stroke-width="2"/>';
svg += '<polygon points="674,591.8 663,586.3 663,597.3" fill="#000"/>';
svg += '<polygon points="701,599.5 711,599.5 706,607" fill="#000"/>';
svg += bracket(804, 831, 780, 784.5, 1.5);
svg += bracket(831.7, 859.3, 703.3, 708, 1.5);
svg += bracket(805, 859.3, 681.7, 686.7, 1.5);
svg += arrowSvg(224.5, 1740, 224.5, 1772, 4, 14, 8.5);
svg += arrowSvg(224.5, 1808, 224.5, 1840, 4, 14, 8.5);
svg += arrowSvg(224.5, 1890, 224.5, 1931, 4, 14, 8.5);
const svgWrap = document.createElement('div');
svgWrap.style.cssText = 'position:absolute;left:0;top:0;width:940px;height:2100px;pointer-events:none;';
svgWrap.innerHTML = '<svg width="940" height="2100" xmlns="http://www.w3.org/2000/svg">' + svg + '</svg>';
page.appendChild(svgWrap);
</script>
</body>
</html>
